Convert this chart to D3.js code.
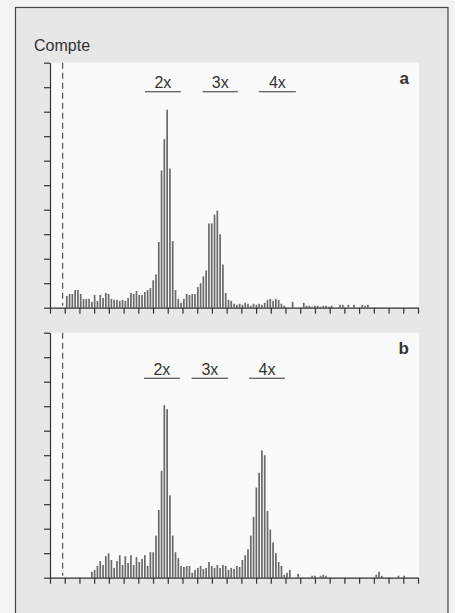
<!DOCTYPE html>
<html>
<head>
<meta charset="utf-8">
<script src="https://cdn.jsdelivr.net/npm/d3@7.9.0/dist/d3.min.js"></script>
<style>
  html, body { margin: 0; padding: 0; background: #f3f3f3; }
  svg { display: block; }
  text { font-family: "Liberation Sans", Arial, sans-serif; fill: #333; }
</style>
</head>
<body>
<svg id="chart" width="455" height="613"></svg>
<script>
// --- data: counts per channel (histogram), first channel given by start*
const nChannels = 132;
const xTickCount = 25;              // intervals on the x axis
const yTicks = d3.range(0, 251, 25); // count ticks (no labels)

const startA = 6;
const countsA = [
  12, 14, 14, 18, 18, 14, 9, 9, 9, 6,
  13, 7, 13, 10, 15, 14, 9, 8, 8, 7,
  8, 7, 10, 15, 14, 17, 13, 13, 16, 18,
  20, 28, 34, 67, 140, 172, 202, 142, 68, 18,
  9, 5, 9, 14, 13, 14, 14, 21, 25, 32,
  38, 86, 86, 95, 99, 75, 44, 15, 8, 7,
  4, 3, 4, 3, 5, 4, 2, 4, 3, 4,
  3, 5, 8, 9, 7, 9, 8, 4, 2, 0,
  0, 6, 0, 0, 0, 5, 2, 2, 1, 2,
  2, 1, 2, 2, 1, 2, 0, 0, 3, 3,
  0, 3, 0, 3, 0, 0, 3, 2, 3
];

const startB = 15;
const countsB = [
  6, 8, 12, 17, 13, 22, 25, 18, 10, 17,
  23, 13, 22, 15, 23, 13, 21, 16, 19, 23,
  12, 26, 26, 43, 69, 109, 176, 172,
  84, 43, 26, 20, 12, 11, 12, 12, 5, 8,
  10, 12, 9, 10, 16, 12, 10, 13, 10, 13,
  12, 8, 10, 9, 12, 11, 18, 23, 29, 43,
  62, 92, 107, 130, 125, 68, 49, 36, 25, 16,
  12, 3, 5, 8, 0, 0, 4, 0, 0, 0,
  0, 2, 2, 0, 2, 3, 2, 0, 0, 0,
  0, 0, 0, 0, 0, 0, 0, 0, 0, 0,
  0, 0, 0, 0, 3, 6, 2, 0, 0, 0,
  0, 0, 2, 0, 2
];

// ploidy gates (channel ranges) and their labels
const gateLabels = ['2x', '3x', '4x'];
const gatesA = [[34.1, 46.9], [54.7, 67.4], [74.9, 88.2]];
const gatesB = [[33.7, 46.6], [50.8, 63.9], [71.4, 84.3]];

const refChannel = 4.55; // dashed reference line

// --- layout
const svg = d3.select('#chart');
const left = 50, right = 418, panelH = 245;

svg.append('rect')
  .attr('x', 15.5).attr('y', 7.5)
  .attr('width', 432.5).attr('height', 640)
  .attr('fill', '#e7e7e7')
  .attr('stroke', '#444').attr('stroke-width', 1.2);

svg.append('text')
  .attr('x', 34).attr('y', 51)
  .attr('font-size', 16)
  .text('Compte');

const x = d3.scaleLinear().domain([0, nChannels]).range([left, right]);
const xTicks = d3.range(xTickCount + 1).map(k => k * nChannels / xTickCount);

const panels = [
  { tag: 'a', top: 62.7, start: startA, counts: countsA, gates: gatesA, labelDy: 25.5, lineDy: 29 },
  { tag: 'b', top: 332.7, start: startB, counts: countsB, gates: gatesB, labelDy: 42.5, lineDy: 45.6 }
];

panels.forEach(p => {
  const y = d3.scaleLinear().domain([0, 250]).range([p.top + panelH, p.top]);
  const g = svg.append('g');

  // white plot area
  g.append('rect')
    .attr('x', left).attr('y', p.top)
    .attr('width', right + 1 - left).attr('height', panelH)
    .attr('fill', '#fafafa');

  // dashed reference
  g.append('line')
    .attr('x1', x(refChannel)).attr('x2', x(refChannel))
    .attr('y1', y(250)).attr('y2', y(0) - 2)
    .attr('stroke', '#444').attr('stroke-width', 1.1)
    .attr('stroke-dasharray', '6,4');

  // bars
  const bins = p.counts.map((v, i) => ({ ch: p.start + i, v }));
  g.selectAll('rect.bar')
    .data(bins.filter(d => d.v > 0))
    .enter()
    .append('rect')
      .attr('class', 'bar')
      .attr('x', d => x(d.ch) - 0.8)
      .attr('y', d => y(d.v))
      .attr('width', 1.7)
      .attr('height', d => y(0) - y(d.v))
      .attr('fill', '#6a6a6a');

  // axes
  const yAxis = g.append('g')
    .attr('transform', `translate(${left},0)`)
    .call(d3.axisLeft(y).tickValues(yTicks).tickSize(6).tickSizeOuter(0).tickFormat(''));
  const xAxis = g.append('g')
    .attr('transform', `translate(0,${y(0)})`)
    .call(d3.axisBottom(x).tickValues(xTicks).tickSize(6).tickSizeOuter(0).tickFormat(''));
  [yAxis, xAxis].forEach(a => {
    a.selectAll('path, line').attr('stroke', '#333').attr('stroke-width', 1.2);
  });

  // gate labels with underline
  p.gates.forEach((gt, k) => {
    const cx = (x(gt[0]) + x(gt[1])) / 2;
    g.append('text')
      .attr('x', cx).attr('y', p.top + p.labelDy)
      .attr('text-anchor', 'middle')
      .attr('font-size', 16)
      .text(gateLabels[k]);
    g.append('line')
      .attr('x1', x(gt[0])).attr('x2', x(gt[1]))
      .attr('y1', p.top + p.lineDy).attr('y2', p.top + p.lineDy)
      .attr('stroke', '#333').attr('stroke-width', 1.1);
  });

  // panel letter
  g.append('text')
    .attr('x', 409).attr('y', p.top + (p.tag === 'a' ? 21 : 21.5))
    .attr('text-anchor', 'end')
    .attr('font-size', 17)
    .attr('font-weight', 'bold')
    .text(p.tag);
});
</script>
</body>
</html>
